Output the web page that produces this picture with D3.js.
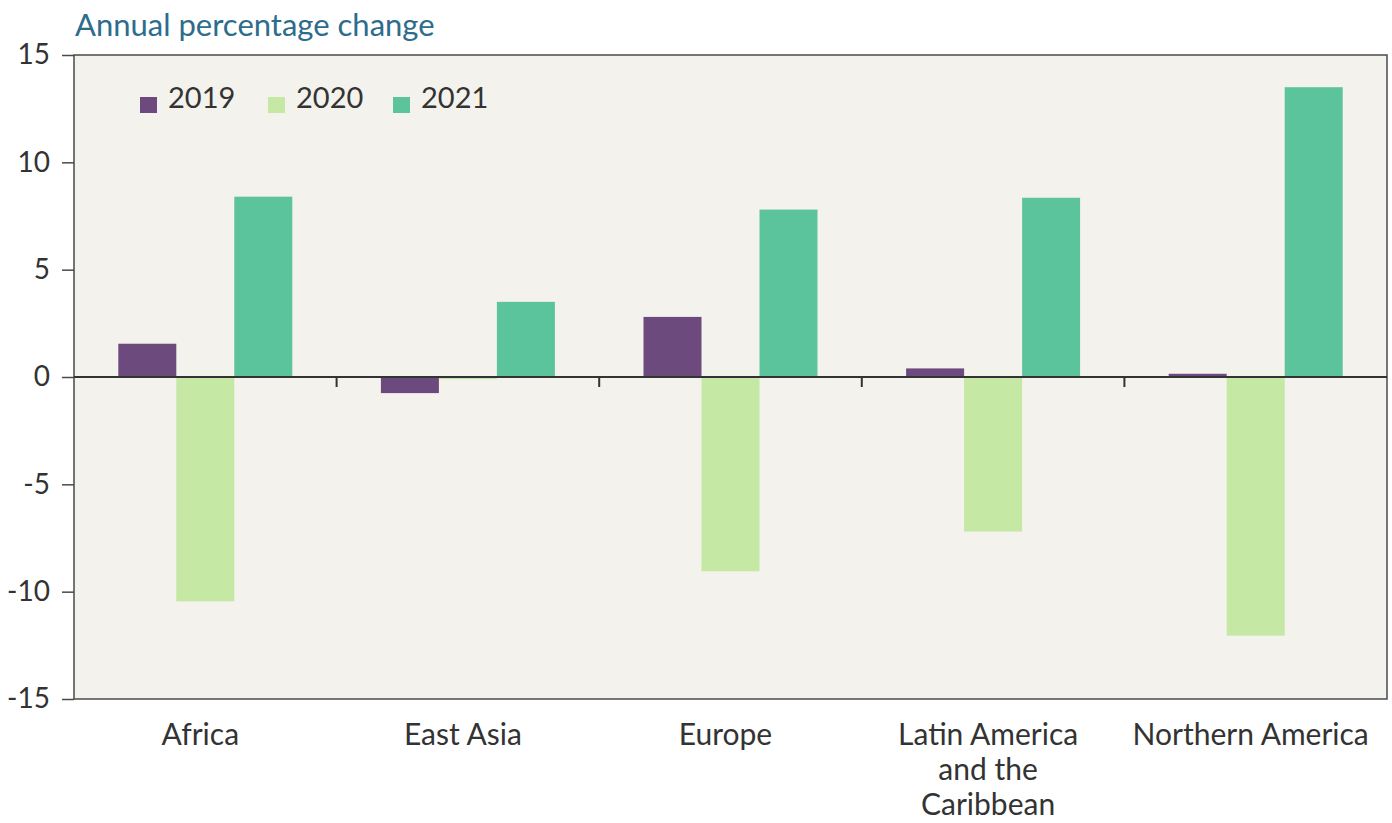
<!DOCTYPE html>
<html>
<head>
<meta charset="utf-8">
<script src="https://cdn.jsdelivr.net/npm/d3@7"></script>
<style>
  html, body { margin: 0; padding: 0; background: #ffffff; }
  svg { display: block; }
  text { font-family: Lato, "Open Sans", sans-serif; }
</style>
</head>
<body>
<svg id="chart" width="1392" height="823"></svg>
<script>
// ---- data ----
const categories = ["Africa", "East Asia", "Europe", "Latin America and the Caribbean", "Northern America"];
const categoryLines = [["Africa"], ["East Asia"], ["Europe"], ["Latin America", "and the", "Caribbean"], ["Northern America"]];
const seriesNames = ["2019", "2020", "2021"];
const values2019 = [1.55, -0.75, 2.8, 0.4, 0.15];
const values2020 = [-10.45, -0.1, -9.05, -7.2, -12.05];
const values2021 = [8.4, 3.5, 7.8, 8.35, 13.5];
const yTicks = [-15, -10, -5, 0, 5, 10, 15];
const titleText = "Annual percentage change";
const colors = ["#6d4a7e", "#c5e8a5", "#5cc49c"];

const seriesValues = [values2019, values2020, values2021];

// ---- layout ----
const svg = d3.select("#chart");
const mLeft = 74, mRight = 1387, mTop = 55, mBottom = 699;

const x0 = d3.scaleBand().domain(categories).range([mLeft, mRight]).paddingInner(0).paddingOuter(0);
const x1 = d3.scaleBand().domain(seriesNames).range([0, x0.bandwidth()]).paddingInner(0).paddingOuter(0.764);
const y = d3.scaleLinear().domain([-15, 15]).range([mBottom, mTop]);
const color = d3.scaleOrdinal().domain(seriesNames).range(colors);

// plot background
svg.append("rect")
  .attr("x", mLeft).attr("y", mTop)
  .attr("width", mRight - mLeft).attr("height", mBottom - mTop)
  .attr("fill", "#f4f2ed");

// bars
const rows = [];
categories.forEach((c, i) => {
  seriesNames.forEach((s, j) => rows.push({ cat: c, series: s, value: seriesValues[j][i] }));
});
svg.append("g").selectAll("rect").data(rows).join("rect")
  .attr("x", d => x0(d.cat) + x1(d.series))
  .attr("width", x1.bandwidth())
  .attr("y", d => y(Math.max(0, d.value)))
  .attr("height", d => Math.abs(y(d.value) - y(0)))
  .attr("fill", d => color(d.series));

// frame
const frameColor = "#4a4a4a";
svg.append("rect")
  .attr("x", mLeft).attr("y", mTop)
  .attr("width", mRight - mLeft).attr("height", mBottom - mTop)
  .attr("fill", "none").attr("stroke", frameColor).attr("stroke-width", 1.5);

// y axis
const yAxis = d3.axisLeft(y).tickValues(yTicks).tickSize(12).tickPadding(12).tickFormat(d => String(d));
const gy = svg.append("g").attr("transform", `translate(${mLeft},0)`).call(yAxis);
gy.select(".domain").remove();
gy.selectAll(".tick line").attr("stroke", frameColor).attr("stroke-width", 1.5);
gy.selectAll(".tick text").attr("fill", "#333").style("font-size", "28px").style("font-family", "Lato, sans-serif");

// zero line
svg.append("line")
  .attr("x1", mLeft).attr("x2", mRight)
  .attr("y1", y(0)).attr("y2", y(0))
  .attr("stroke", "#333").attr("stroke-width", 2);

// category boundary ticks on zero line
svg.append("g").selectAll("line").data(categories.slice(1)).join("line")
  .attr("x1", d => x0(d)).attr("x2", d => x0(d))
  .attr("y1", y(0)).attr("y2", y(0) + 10)
  .attr("stroke", "#333").attr("stroke-width", 2);

// x labels
const xl = svg.append("g").selectAll("text").data(categories).join("text")
  .attr("x", d => x0(d) + x0.bandwidth() / 2 - 5)
  .attr("y", 745)
  .attr("text-anchor", "middle")
  .attr("fill", "#333")
  .style("font-size", "30px");
xl.each(function(d, i) {
  const t = d3.select(this);
  categoryLines[i].forEach((line, k) => {
    t.append("tspan").attr("x", x0(d) + x0.bandwidth() / 2 - 5).attr("dy", k === 0 ? 0 : 35).text(line);
  });
});

// title
svg.append("text")
  .attr("x", 75).attr("y", 36)
  .attr("fill", "#2d6c8c")
  .style("font-size", "31px")
  .text(titleText);

// legend
const legendX = [140, 268, 393];
const lg = svg.append("g").selectAll("g").data(seriesNames).join("g")
  .attr("transform", (d, i) => `translate(${legendX[i]},97)`);
lg.append("rect").attr("width", 17).attr("height", 16).attr("fill", d => color(d));
lg.append("text").attr("x", 28).attr("y", 11).attr("fill", "#333").style("font-size", "29px").text(d => d);
</script>
</body>
</html>
